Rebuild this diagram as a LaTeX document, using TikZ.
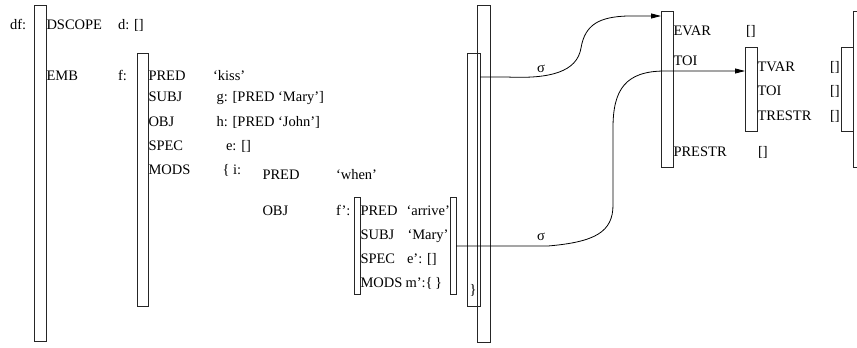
\documentclass[tikz,border=0pt]{standalone}
\usepackage{fontspec}
\setmainfont{Liberation Serif}
\usetikzlibrary{arrows.meta}

\tikzset{
  bar/.style={draw=black!85, line width=0.8pt, inner sep=0pt, outer sep=0pt,
              anchor=north west, minimum width=#1},
  lbl/.style={anchor=base west, inner sep=0pt, outer sep=0pt,
              font=\fontsize{14.5}{17}\selectfont},
  sigmaarrow/.style={draw=black, line width=0.8pt,
                     -{Triangle[length=10pt,width=5pt]}}
}

\begin{document}
\begin{tikzpicture}[x=1pt, y=-1pt]
\useasboundingbox (0,0) rectangle (857,348);
\clip (0,0) rectangle (857,348);

% attribute-value brackets
\node[bar=12pt, minimum height=336.5pt] (df)   at (34,5)   {};
\node[bar=11pt, minimum height=253pt]   (fbr)  at (137,53) {};
\node[bar=6pt,  minimum height=97pt]    (fpl)  at (354,197) {};
\node[bar=6pt,  minimum height=97pt]    (fpr)  at (450,197) {};
\node[bar=13pt, minimum height=253pt]   (fcl)  at (467,53) {};
\node[bar=13pt, minimum height=337pt]   (dfcl) at (477,5)  {};
\node[bar=12pt, minimum height=156pt]   (ev)   at (661,11) {};
\node[bar=12pt, minimum height=84pt]    (tv)   at (745,47) {};
\node[bar=12pt, minimum height=84pt]    (tvcl) at (841,47) {};
\node[bar=13pt, minimum height=156pt]   (evcl) at (853,11) {};

% outer structure
\node[lbl] (tdf)  at (10,29.5)  {df:};
\node[lbl] (tds)  at (46.5,29.5) {DSCOPE};
\node[lbl] (td)   at (118,29.5) {d: []};
\node[lbl] (temb) at (46.5,80)  {EMB};
\node[lbl] (tf)   at (118,80)   {f:};

% f structure
\node[lbl] (fpred) at (148.5,80)  {PRED};
\node[lbl] (fkiss) at (213,80)    {‘kiss’};
\node[lbl] (fsubj) at (148.5,101.5) {SUBJ};
\node[lbl] (fg)    at (216.5,101.5) {g: [PRED ‘Mary’]};
\node[lbl] (fobj)  at (148.5,126) {OBJ};
\node[lbl] (fh)    at (216.5,126) {h: [PRED ‘John’]};
\node[lbl] (fspec) at (148.5,150) {SPEC};
\node[lbl] (fe)    at (226,150)   {e: []};
\node[lbl] (fmods) at (148.5,174) {MODS};
\node[lbl] (fi)    at (222.5,174) {\{ i:};

% i structure
\node[lbl] (ipred) at (262.5,179) {PRED};
\node[lbl] (iwhen) at (336,179)   {‘when’};
\node[lbl] (iobj)  at (262.5,215) {OBJ};
\node[lbl] (ifp)   at (336,215)   {f’:};

% f' structure
\node[lbl] (gpred) at (360.5,215)   {PRED};
\node[lbl] (garr)  at (406.5,215)   {‘arrive’};
\node[lbl] (gsubj) at (360.5,239.5) {SUBJ};
\node[lbl] (gmary) at (407.5,239.5) {‘Mary’};
\node[lbl] (gspec) at (360.5,263.5) {SPEC};
\node[lbl] (ge)    at (407,263.5)   {e’: []};
\node[lbl] (gmods) at (360.5,287.5) {MODS};
\node[lbl] (gm)    at (405.5,287.5) {m’:\{\,\}};
\node[lbl] (close) at (469.5,294)   {\}};

% semantic structures
\node[lbl] (evar)   at (673.5,35)    {EVAR};
\node[lbl] (evarv)  at (746,35)      {[]};
\node[lbl] (etoi)   at (673.5,65)    {TOI};
\node[lbl] (prestr) at (673.5,156.5) {PRESTR};
\node[lbl] (prestrv) at (758,156.5)  {[]};
\node[lbl] (tvar)   at (757.5,71)    {TVAR};
\node[lbl] (tvarv)  at (830,71)      {[]};
\node[lbl] (ttoi)   at (757.5,95)    {TOI};
\node[lbl] (ttoiv)  at (830,95)      {[]};
\node[lbl] (trestr) at (757.5,120.5) {TRESTR};
\node[lbl] (trestrv) at (830,120.5)  {[]};

% projection labels
\node[lbl] (sig1) at (537,72.5)  {σ};
\node[lbl] (sig2) at (537,240.5) {σ};

% sigma projections
\draw[sigmaarrow] ([yshift=-24pt]fcl.north east) -- ++(27,0)
  .. controls ++(43,2) and (577,72) .. (581,48)
  .. controls (585,24) and (600,17) .. (627,16)
  -- ([yshift=-5pt]ev.north west);
\draw[sigmaarrow] ([yshift=-49pt]fpr.north east) -- ++(92,0)
  .. controls ++(47,-4) and (613,232) .. (613,205)
  -- (613,128)
  .. controls (613,90) and (625,71) .. (665,71)
  -- ([yshift=-24pt]tv.north west);
\end{tikzpicture}
\end{document}
